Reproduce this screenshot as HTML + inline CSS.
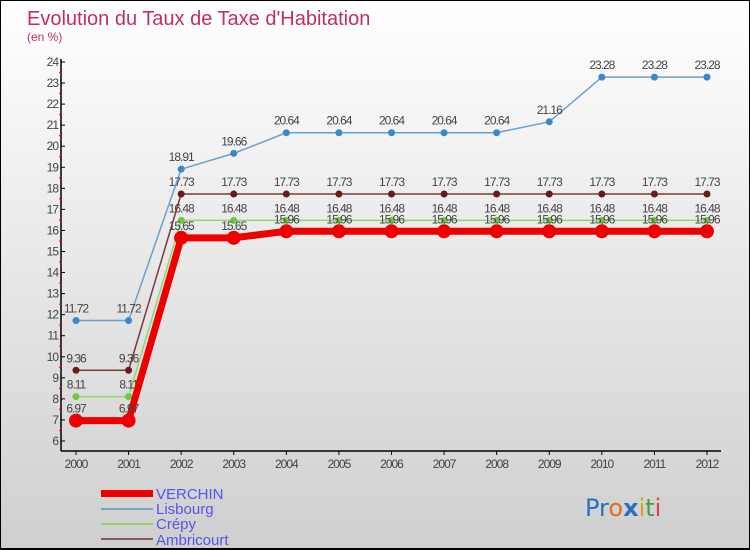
<!DOCTYPE html>
<html><head><meta charset="utf-8"><style>
body{margin:0;}
#c{width:750px;height:550px;position:relative;box-sizing:border-box;border:1px solid #000;border-bottom:2px solid #000;background:linear-gradient(#ffffff,#cfcfcf);overflow:hidden;font-family:"Liberation Sans",sans-serif;}
</style></head><body>
<div id="c">
<svg id="s" width="750" height="550" style="position:absolute;left:0;top:0">
<text x="26" y="24" font-size="20" fill="#c0305a">Evolution du Taux de Taxe d'Habitation</text>
<text x="26" y="40" font-size="12" fill="#c0305a">(en %)</text>
<g id="axes"></g><g id="series"></g>
<g>
<rect x="100" y="489" width="52" height="7" fill="#e00"/>
<text x="155" y="498" font-size="15" fill="#5555ee">VERCHIN</text>
<line x1="100" y1="508" x2="152" y2="508" stroke="#7aa6c8" stroke-width="2"/>
<text x="155" y="513" font-size="15" fill="#5555ee">Lisbourg</text>
<line x1="100" y1="523" x2="152" y2="523" stroke="#8fd26a" stroke-width="2"/>
<text x="155" y="528" font-size="15" fill="#5555ee">Crépy</text>
<line x1="100" y1="538" x2="152" y2="538" stroke="#8a5a5a" stroke-width="2"/>
<text x="155" y="544" font-size="15" fill="#5555ee">Ambricourt</text>
</g>
<text x="584" y="515" font-size="24" font-family="'DejaVu Sans',sans-serif"><tspan fill="#2a6fc0">Pr</tspan><tspan fill="#e07020">o</tspan><tspan fill="#2a6fc0" font-weight="bold">x</tspan><tspan fill="#e0a020">i</tspan><tspan fill="#40a040">t</tspan><tspan fill="#e04040">i</tspan></text>
</svg>
<script>
const years=[2000,2001,2002,2003,2004,2005,2006,2007,2008,2009,2010,2011,2012];
const yTicks=[6,7,8,9,10,11,12,13,14,15,16,17,18,19,20,21,22,23,24];
const verchin=[6.97,6.97,15.65,15.65,15.96,15.96,15.96,15.96,15.96,15.96,15.96,15.96,15.96];
const lisbourg=[11.72,11.72,18.91,19.66,20.64,20.64,20.64,20.64,20.64,21.16,23.28,23.28,23.28];
const crepy=[8.11,8.11,16.48,16.48,16.48,16.48,16.48,16.48,16.48,16.48,16.48,16.48,16.48];
const ambricourt=[9.36,9.36,17.73,17.73,17.73,17.73,17.73,17.73,17.73,17.73,17.73,17.73,17.73];
const NS="http://www.w3.org/2000/svg";
const X=i=>75+i*(706-75)/(years.length-1);
const Y=v=>440-(v-6)*(440-61)/18;
function mk(t,a,p){const e=document.createElementNS(NS,t);for(const k in a)e.setAttribute(k,a[k]);p.appendChild(e);return e;}
const ax=document.getElementById('axes');
let e=mk('line',{x1:60,y1:58,x2:60,y2:450,stroke:'#000','stroke-width':1.5},ax);


e=mk('line',{x1:60,y1:450,x2:720,y2:450,stroke:'#000','stroke-width':1.5},ax);


yTicks.forEach(v=>{
 mk('line',{x1:60,y1:Y(v),x2:64,y2:Y(v),stroke:'#000'},ax);
 if(v<24)mk('line',{x1:58,y1:Y(v+0.5),x2:61,y2:Y(v+0.5),stroke:'#e00'},ax);
 const t=mk('text',{x:57,y:Y(v)+4,'font-size':12,fill:'#444','text-anchor':'end','letter-spacing':'-1'},ax);t.textContent=v;
 
 
});
years.forEach((y,i)=>{
 mk('line',{x1:X(i),y1:450,x2:X(i),y2:454,stroke:'#000'},ax);
 const t=mk('text',{x:X(i),y:467,'font-size':12,fill:'#444','text-anchor':'middle','letter-spacing':'-1'},ax);t.textContent=y;
 
 
});
const sg=document.getElementById('series');
function draw(name,vals,color,w,r,dot){
 const g=mk('g',{},sg);
 
 
 const l=mk('polyline',{points:vals.map((v,i)=>X(i)+','+Y(v)).join(' '),fill:'none',stroke:color,'stroke-width':w,'stroke-linejoin':'round'},g);
 
 
 vals.forEach((v,i)=>{
  const c=mk('circle',{cx:X(i),cy:Y(v),r:r,fill:dot},g);
  
  
  const t=mk('text',{x:X(i),y:Y(v)-8,'font-size':12,fill:'#444','text-anchor':'middle','letter-spacing':'-1'},g);t.textContent=v;
  
  
 });
}
draw('lisbourg',lisbourg,'#6aa0d0',1.5,3.5,'#3a88c8');
draw('ambricourt',ambricourt,'#7a3a3a',1.5,3.5,'#6a1a1a');
draw('crepy',crepy,'#90d870',1.5,3.5,'#70c840');
draw('verchin',verchin,'#ee0000',7,7,'#ee0000');
</script>
</div>
</body></html>
